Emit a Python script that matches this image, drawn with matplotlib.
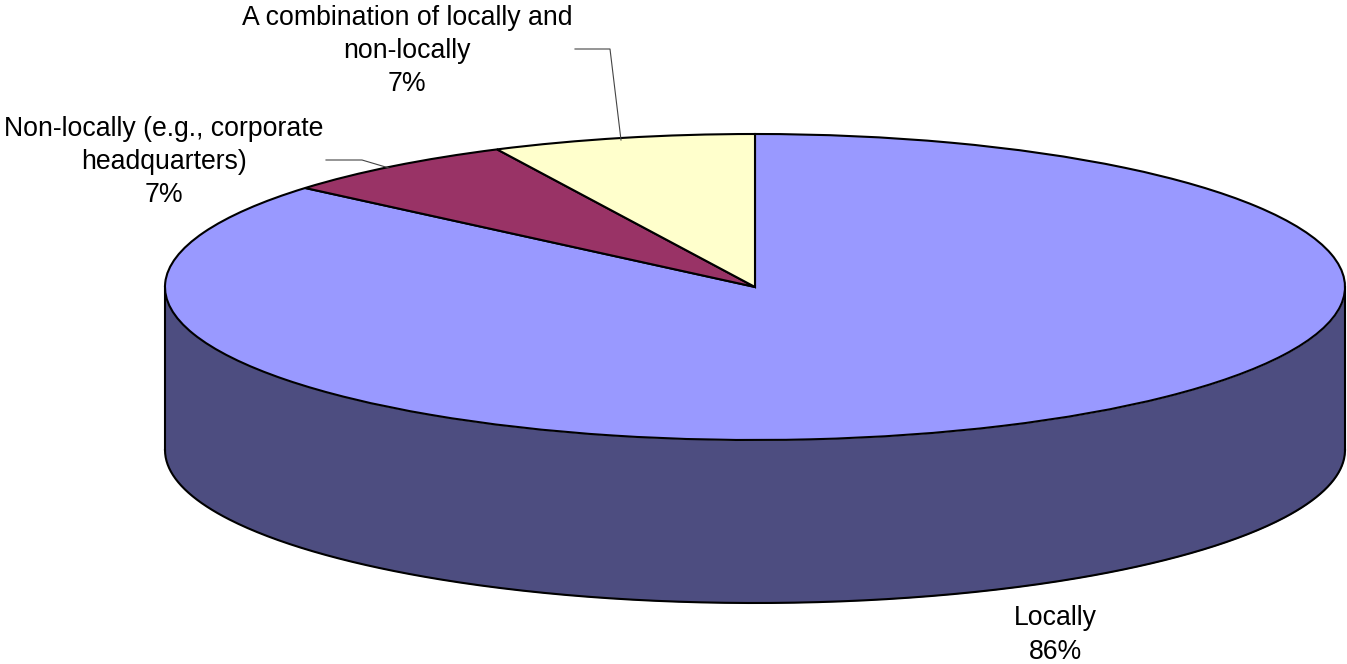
#!/usr/bin/env python3
"""3-D look pie: where decisions are made."""
import numpy as np
import matplotlib
matplotlib.use("Agg")
import matplotlib.pyplot as plt

plt.rcParams["font.family"] = ["Liberation Sans", "DejaVu Sans"]

labels = ["Locally", "Non-locally (e.g., corporate\nheadquarters)", "A combination of locally and\nnon-locally"]
percents = [86, 7, 7]
# slice sizes as drawn, the printed labels are rounded
shares = [86.2, 6.6, 7.2]
colors = ["#9999FF", "#993366", "#FFFFCC"]
SIDE = "#4D4D80"

W, H = 1347, 664
CX, CY, RX, RY, DEPTH = 755, 287, 590, 153, 163


def main():
    fig = plt.figure(figsize=(W / 100, H / 100), dpi=100)
    ax = fig.add_axes([0, 0, 1, 1])

    # side wall first, the lower half of the ellipse pushed down
    d = DEPTH / RY
    t = np.linspace(np.pi, 2 * np.pi, 400)
    ax.fill_between(np.cos(t), np.sin(t), np.sin(t) - d, color=SIDE, lw=0, zorder=1)
    ax.plot(np.cos(t), np.sin(t) - d, color="k", lw=1.5, zorder=2)
    ax.plot([-1, -1], [0, -d], color="k", lw=1.5, zorder=2)
    ax.plot([1, 1], [0, -d], color="k", lw=1.5, zorder=2)

    wedges, _ = ax.pie(shares, colors=colors, startangle=90, counterclock=False,
                       radius=1, wedgeprops=dict(edgecolor="k", linewidth=1.5, zorder=3))

    # pie resets limits, so set them after; non-equal aspect flattens it to the ellipse
    ax.set_aspect("auto")
    ax.set_xlim(-CX / RX, (W - CX) / RX)
    ax.set_ylim((CY - H) / RY, CY / RY)
    ax.axis("off")

    def px(x, y):
        return (x - CX) / RX, (CY - y) / RY

    fs = 19.2
    positions = [(1055, 635), (164, 162), (407, 51)]
    for lab, pct, (x, y) in zip(labels, percents, positions):
        ax.text(*px(x, y), f"{lab}\n{pct}%", ha="center", va="center", fontsize=fs,
                linespacing=1.37, color="k", zorder=5)

    # leader lines
    ax.plot(*zip(px(326, 160), px(362, 160), px(389, 168)), color="#444444", lw=0.8, zorder=5)
    ax.plot(*zip(px(575, 49), px(610, 49), px(621, 140)), color="#444444", lw=0.8, zorder=5)

    fig.savefig("out.png", dpi=100, facecolor="white")


if __name__ == "__main__":
    main()
